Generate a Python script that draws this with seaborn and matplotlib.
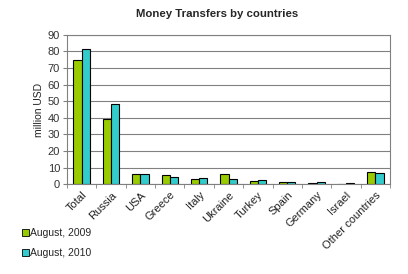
import matplotlib
matplotlib.use("Agg")
import matplotlib.pyplot as plt
import seaborn as sns
import pandas as pd
import numpy as np
from matplotlib.patches import Patch

categories = ["Total", "Russia", "USA", "Greece", "Italy", "Ukraine", "Turkey",
              "Spain", "Germany", "Israel", "Other countries"]
aug_2009 = [75, 39.4, 6, 5.4, 3.4, 6, 1.8, 1.6, 0.5, 0.4, 7.2]
aug_2010 = [81.3, 48.6, 6, 4.3, 4, 3.3, 2.8, 1.3, 1.2, 0.8, 6.6]
series = ["August, 2009", "August, 2010"]
colors = ["#99CC00", "#33CCCC"]

df = pd.DataFrame({
    "country": categories * 2,
    "value": aug_2009 + aug_2010,
    "series": [series[0]] * len(categories) + [series[1]] * len(categories),
})

sns.set_style("white")
plt.rcParams["font.family"] = ["Liberation Sans", "DejaVu Sans"]

fig = plt.figure(figsize=(4.08, 2.74), dpi=100)
ax = fig.add_axes([67/408, 1 - 184.3/274, 323/408, 149.6/274])

sns.barplot(data=df, x="country", y="value", hue="series", order=categories,
            hue_order=series, palette=colors, width=0.56, edgecolor="black",
            linewidth=0.8, ax=ax, legend=False, saturation=1)

ax.set_ylim(0, 90)
ax.set_xlim(-0.5, len(categories) - 0.5)
ax.set_yticks(np.arange(0, 91, 10))
ax.yaxis.grid(True, color="#808080", linewidth=0.8)
ax.set_axisbelow(True)
for s in ax.spines.values():
    s.set_color("#808080")
    s.set_linewidth(0.8)
ax.tick_params(axis="y", labelsize=8, length=3, color="#808080", left=True,
               pad=2, labelcolor="#333333")
ax.set_xticks(np.arange(len(categories)))
ax.set_xticklabels(categories, rotation=45, ha="right", rotation_mode="anchor",
                   fontsize=8, color="#222222")
ax.tick_params(axis="x", which="major", length=0, pad=4)
ax.set_xticks(np.arange(-0.5, len(categories), 1), minor=True)
ax.tick_params(axis="x", which="minor", length=3, color="#808080", bottom=True)
ax.set_xlabel("")
ax.set_ylabel("million USD", fontsize=7.5, color="#222222", labelpad=3)

fig.text(217/408, 1 - 14/274, "Money Transfers by countries", ha="center",
         va="center", fontsize=8.2, fontweight="bold")

handles = [Patch(facecolor=c, edgecolor="black", linewidth=0.6) for c in colors]
fig.legend(handles, series, loc="upper left", bbox_to_anchor=(22/408, 1 - 228/274),
           frameon=False, fontsize=7.5, handlelength=0.7, handleheight=0.7,
           handletextpad=0.1, labelspacing=1.0, borderpad=0, borderaxespad=0)

fig.savefig("out.png", dpi=100)
